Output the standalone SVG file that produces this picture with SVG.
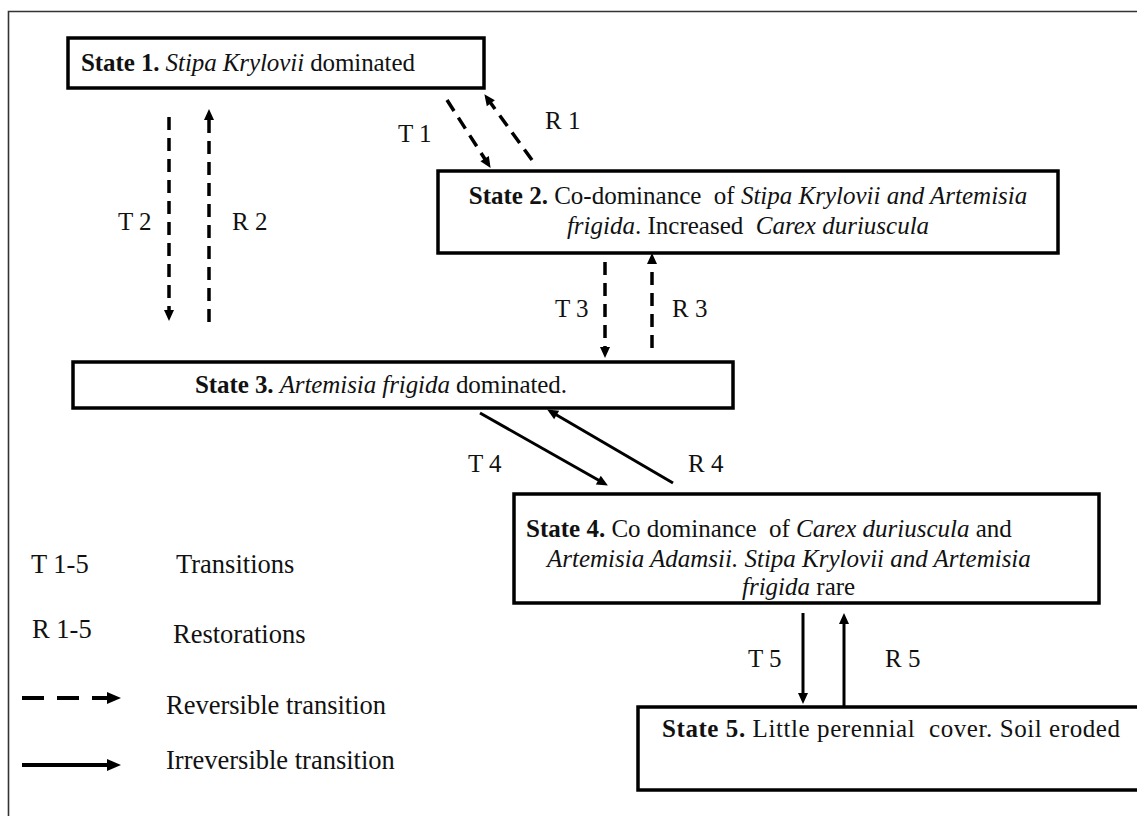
<svg xmlns="http://www.w3.org/2000/svg" width="1137" height="816" viewBox="0 0 1137 816">
<style>
text{font-family:"Liberation Serif","Times New Roman",serif;font-size:25px;fill:#111}
.b{font-weight:bold}
.i{font-style:italic}
.box{fill:#fff;stroke:#000;stroke-width:3.5}
.lbl{font-size:25px}
.leg{font-size:26.5px}
.dash{stroke:#000;stroke-width:3.5;fill:none;stroke-dasharray:13 8}
.solid{stroke:#000;stroke-width:3;fill:none}
.frame{stroke:#333;stroke-width:1.6;fill:none}
</style>
<defs>
<marker id="ah" markerUnits="userSpaceOnUse" markerWidth="11" markerHeight="10" refX="4" refY="5" orient="auto" overflow="visible">
<path d="M0,0 L11,5 L0,10 z" fill="#000"/>
</marker>
<marker id="ahL" markerUnits="userSpaceOnUse" markerWidth="14" markerHeight="12" refX="4" refY="6" orient="auto" overflow="visible">
<path d="M0,0 L14,6 L0,12 z" fill="#000"/>
</marker>
</defs>
<rect width="1137" height="816" fill="#fff"/>
<path class="frame" d="M8.5,816 V11.5 H1137"/>

<g id="state1">
<rect class="box" x="68" y="38" width="416" height="50"/>
<text x="81" y="71" textLength="334"><tspan class="b">State 1.</tspan> <tspan class="i">Stipa Krylovii</tspan> dominated</text>
</g>

<g id="state2">
<rect class="box" x="438" y="171" width="620" height="82"/>
<text x="748" y="204" text-anchor="middle" xml:space="preserve"><tspan class="b">State 2.</tspan> Co-dominance  of <tspan class="i">Stipa Krylovii and Artemisia</tspan></text>
<text x="748" y="234" text-anchor="middle" xml:space="preserve"><tspan class="i">frigida</tspan>. Increased  <tspan class="i">Carex duriuscula</tspan></text>
</g>

<g id="state3">
<rect class="box" x="73" y="362" width="660" height="46"/>
<text x="195" y="393" textLength="372"><tspan class="b">State 3.</tspan> <tspan class="i">Artemisia frigida</tspan> dominated.</text>
</g>

<g id="state4">
<rect class="box" x="514" y="494" width="585" height="109"/>
<text x="526" y="537" xml:space="preserve"><tspan class="b">State 4.</tspan> Co dominance  of <tspan class="i">Carex duriuscula</tspan> and</text>
<text x="547" y="567" class="i">Artemisia Adamsii. Stipa Krylovii and Artemisia</text>
<text x="742" y="595"><tspan class="i">frigida</tspan> rare</text>
</g>

<g id="state5">
<rect class="box" x="638" y="707" width="520" height="83"/>
<text x="662" y="737" textLength="458" xml:space="preserve"><tspan class="b">State 5.</tspan> Little perennial  cover. Soil eroded</text>
</g>

<g id="connectors">
<line class="dash" x1="447" y1="100" x2="486.8" y2="162" marker-end="url(#ah)"/>
<line class="dash" x1="532" y1="160" x2="488.5" y2="100" marker-end="url(#ah)"/>
<line class="dash" x1="169" y1="117" x2="169" y2="314" marker-end="url(#ah)"/>
<line class="dash" x1="209" y1="322" x2="209" y2="116" marker-end="url(#ah)"/>
<line class="dash" x1="605" y1="262" x2="605" y2="351" marker-end="url(#ah)"/>
<line class="dash" x1="652" y1="348" x2="652" y2="260" marker-end="url(#ah)"/>
<line class="solid" x1="480" y1="413" x2="601.8" y2="482" marker-end="url(#ah)"/>
<line class="solid" x1="673" y1="483" x2="553.2" y2="413" marker-end="url(#ah)"/>
<line class="solid" x1="803" y1="613" x2="803" y2="697" marker-end="url(#ah)"/>
<line class="solid" x1="844" y1="707" x2="844" y2="620" marker-end="url(#ah)"/>
<text class="lbl" x="398" y="142">T 1</text>
<text class="lbl" x="545" y="129">R 1</text>
<text class="lbl" x="118" y="230">T 2</text>
<text class="lbl" x="232" y="230">R 2</text>
<text class="lbl" x="555" y="317">T 3</text>
<text class="lbl" x="672" y="317">R 3</text>
<text class="lbl" x="468" y="472">T 4</text>
<text class="lbl" x="688" y="472">R 4</text>
<text class="lbl" x="748" y="667">T 5</text>
<text class="lbl" x="885" y="667">R 5</text>
</g>

<g id="legend">
<text class="leg" x="31" y="573">T 1-5</text>
<text class="leg" x="176" y="573">Transitions</text>
<text class="leg" x="32" y="638">R 1-5</text>
<text class="leg" x="173" y="643">Restorations</text>
<line x1="22" y1="698" x2="111" y2="698" stroke="#000" stroke-width="4" stroke-dasharray="22 13" marker-end="url(#ahL)"/>
<text class="leg" x="166" y="714">Reversible transition</text>
<line x1="22" y1="765" x2="111" y2="765" stroke="#000" stroke-width="4" marker-end="url(#ahL)"/>
<text class="leg" x="166" y="769">Irreversible transition</text>
</g>
</svg>
